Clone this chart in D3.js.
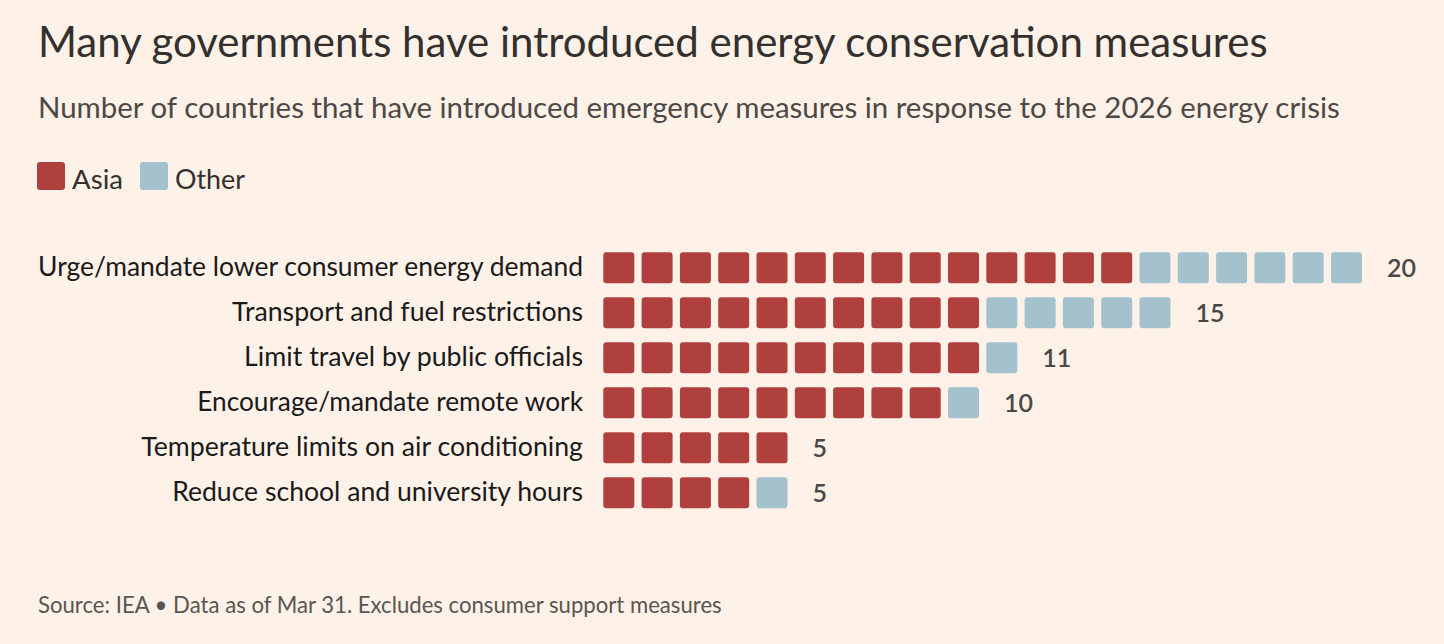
<!DOCTYPE html>
<html>
<head>
<meta charset="utf-8">
<script src="https://cdn.jsdelivr.net/npm/d3@7/dist/d3.min.js"></script>
<style>
  html, body { margin: 0; padding: 0; background: #fdf1e8; }
  svg { display: block; }
  text { font-family: Lato, "Open Sans", sans-serif; }
</style>
</head>
<body>
<svg id="chart" width="1444" height="644"></svg>
<script>
// ---- Data ----
const categories = [
  "Urge/mandate lower consumer energy demand",
  "Transport and fuel restrictions",
  "Limit travel by public officials",
  "Encourage/mandate remote work",
  "Temperature limits on air conditioning",
  "Reduce school and university hours"
];
const asiaValues  = [14, 10, 10, 9, 5, 4];
const otherValues = [6, 5, 1, 1, 0, 1];
const seriesNames = ["Asia", "Other"];

const title = "Many governments have introduced energy conservation measures";
const subtitle = "Number of countries that have introduced emergency measures in response to the 2026 energy crisis";
const source = "Source: IEA \u2022 Data as of Mar 31. Excludes consumer support measures";

// ---- Styles ----
const colors = { Asia: "#b0403e", Other: "#a3c2cd" };
const W = 1444, H = 644;
const svg = d3.select("#chart");
svg.append("rect").attr("width", W).attr("height", H).attr("fill", "#fdf1e8");

function fitText(sel, targetWidth) {
  const node = sel.node();
  const fs = parseFloat(sel.attr("font-size"));
  const w = node.getComputedTextLength();
  if (w > 0) sel.attr("font-size", (fs * targetWidth / w).toFixed(2));
  return sel;
}

// Title & subtitle
fitText(svg.append("text").attr("x", 38).attr("y", 57)
  .attr("font-size", 40).attr("fill", "#33302e").text(title), 1230);
fitText(svg.append("text").attr("x", 38).attr("y", 118)
  .attr("font-size", 27).attr("fill", "#4d4845").text(subtitle), 1302);

// Legend
const legend = svg.append("g");
const legendItems = [{name: "Asia", x: 37, tw: 51}, {name: "Other", x: 140, tw: 70}];
legendItems.forEach(it => {
  legend.append("rect").attr("x", it.x).attr("y", 162).attr("width", 28).attr("height", 28)
    .attr("rx", 3).attr("fill", colors[it.name]);
  fitText(legend.append("text").attr("x", it.x + 35).attr("y", 189)
    .attr("font-size", 25).attr("fill", "#33302e").text(it.name), it.tw);
});

// Scales
const x = d3.scaleLinear().domain([0, 20]).range([603.3, 603.3 + 20 * 38.3]);
const y = d3.scaleBand().domain(categories)
  .range([252.3, 252.3 + 5 * 45 + 31]).paddingInner(14 / 45).paddingOuter(0);
const sq = 31;

const rows = categories.map((c, i) => {
  const cells = [];
  for (let k = 0; k < asiaValues[i]; k++) cells.push({series: "Asia", idx: k});
  for (let k = 0; k < otherValues[i]; k++) cells.push({series: "Other", idx: asiaValues[i] + k});
  return {cat: c, total: asiaValues[i] + otherValues[i], cells};
});

const rowG = svg.selectAll("g.row").data(rows).enter().append("g").attr("class", "row");

rowG.selectAll("rect").data(d => d.cells.map(c => ({...c, cat: d.cat}))).enter().append("rect")
  .attr("x", d => x(d.idx))
  .attr("y", d => y(d.cat))
  .attr("width", sq).attr("height", y.bandwidth())
  .attr("rx", 3)
  .attr("fill", d => colors[d.series]);

// Category labels (fit to reference widths)
const labelWidths = [545, 351, 339, 386, 442, 411];
rowG.each(function(d, i) {
  const t = d3.select(this).append("text")
    .attr("x", 583).attr("y", y(d.cat) + y.bandwidth() / 2 + 8.5)
    .attr("text-anchor", "end").attr("font-size", 24).attr("fill", "#1a1a1a")
    .text(d.cat);
  fitText(t, labelWidths[i]);
});

// Value labels
rowG.append("text")
  .attr("x", d => x(d.total - 1) + sq + 25)
  .attr("y", d => y(d.cat) + y.bandwidth() / 2 + 9)
  .attr("font-size", 25).attr("font-weight", 600).attr("fill", "#4a4745")
  .text(d => d.total);

// Source
fitText(svg.append("text").attr("x", 38).attr("y", 613)
  .attr("font-size", 19).attr("fill", "#5a5552").text(source), 684);
</script>
</body>
</html>
